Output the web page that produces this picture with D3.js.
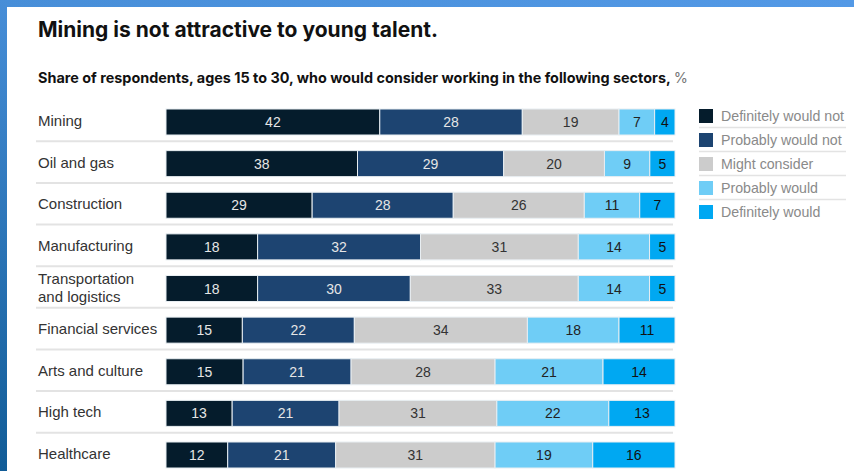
<!DOCTYPE html>
<meta charset="utf-8">
<script src="https://d3js.org/d3.v7.min.js"></script>
<style>
  body { margin: 0; background: #fff; }
  text { font-family: "Liberation Sans", Arial, sans-serif; }
</style>
<div id="chart"></div>
<script>

  // data (share of respondents, %)
  var sectors = ["Mining", "Oil and gas", "Construction", "Manufacturing",
    "Transportation and logistics", "Financial services", "Arts and culture",
    "High tech", "Healthcare"];
  var definitelyNot   = [42, 38, 29, 18, 18, 15, 15, 13, 12];
  var probablyNot     = [28, 29, 28, 32, 30, 22, 21, 21, 21];
  var mightConsider   = [19, 20, 26, 31, 33, 34, 28, 31, 31];
  var probablyWould   = [7, 9, 11, 14, 14, 18, 21, 22, 19];
  var definitelyWould = [4, 5, 7, 5, 5, 11, 14, 13, 16];
  var seriesNames = ["Definitely would not", "Probably would not", "Might consider",
    "Probably would", "Definitely would"];

  var colors = ["#051c2c", "#1d4471", "#cccccc", "#6fcdf6", "#00a8f2"];
  var textColors = ["#e6e6e6", "#e6e6e6", "#333", "#222", "#111"];

  var width = 854, height = 471;

  var svg = d3.select("#chart").append("svg")
    .attr("width", width)
    .attr("height", height);

  // blue frame on top and left
  var defs = svg.append("defs");
  var gTop = defs.append("linearGradient").attr("id", "gtop");
  gTop.append("stop").attr("offset", "0%").attr("stop-color", "#478ed8");
  gTop.append("stop").attr("offset", "100%").attr("stop-color", "#5399e6");
  var gLeft = defs.append("linearGradient").attr("id", "gleft")
    .attr("x1", 0).attr("y1", 0).attr("x2", 0).attr("y2", 1);
  gLeft.append("stop").attr("offset", "0%").attr("stop-color", "#478ed8");
  gLeft.append("stop").attr("offset", "100%").attr("stop-color", "#115c97");

  svg.append("rect").attr("x", 0).attr("y", 0).attr("width", width).attr("height", 7)
    .attr("fill", "url(#gtop)");
  svg.append("rect").attr("x", 0).attr("y", 0).attr("width", 7).attr("height", height)
    .attr("fill", "url(#gleft)");

  // title and subtitle
  svg.append("text")
    .attr("x", 38).attr("y", 37)
    .style("font-family", "Inter, 'Liberation Sans', sans-serif")
    .style("font-size", "21px").style("font-weight", 700).style("fill", "#111")
    .text("Mining is not attractive to young talent.");

  var sub = svg.append("text")
    .attr("x", 38).attr("y", 83)
    .style("font-family", "Inter, 'Liberation Sans', sans-serif")
    .style("font-size", "14.4px").style("font-weight", 700).style("fill", "#111");
  sub.append("tspan")
    .text("Share of respondents, ages 15 to 30, who would consider working in the following sectors, ");
  sub.append("tspan").style("font-weight", 400).style("fill", "#777").text("%");

  // build rows
  var series = [definitelyNot, probablyNot, mightConsider, probablyWould, definitelyWould];
  var rows = sectors.map(function(s, i) {
    var total = d3.sum(series, function(v) { return v[i]; });
    var acc = 0;
    var segs = series.map(function(v, k) {
      var seg = { key: k, value: v[i], start: acc / total, end: (acc + v[i]) / total };
      acc += v[i];
      return seg;
    });
    return { name: s, segs: segs };
  });

  var x = d3.scaleLinear().domain([0, 1]).range([166, 675]);
  var y = d3.scalePoint().domain(sectors).range([122, 455]);
  var barH = 26;
  var step = y.step();

  // separators between rows
  svg.selectAll(".sep")
    .data(sectors.slice(0, -1))
    .enter().append("line")
    .attr("x1", 36).attr("x2", 673)
    .attr("y1", function(d) { return y(d) + step / 2 - 1.5; })
    .attr("y2", function(d) { return y(d) + step / 2 - 1.5; })
    .attr("stroke", "#e3e3e3").attr("stroke-width", 2);

  // category labels
  var labels = svg.selectAll(".lab")
    .data(sectors)
    .enter().append("text")
    .attr("x", 38)
    .style("font-size", "15px").style("fill", "#333");
  labels.each(function(d) {
    var t = d3.select(this);
    var lines = d.length > 20 ? [d.slice(0, d.indexOf(" and")), d.slice(d.indexOf(" and") + 1)] : [d];
    var y0 = y(d) + 4 - (lines.length - 1) * 9;
    lines.forEach(function(l, i) {
      t.append("tspan").attr("x", 38).attr("y", y0 + i * 18).text(l);
    });
  });

  // bars
  var rowG = svg.selectAll(".row")
    .data(rows)
    .enter().append("g")
    .attr("transform", function(d) { return "translate(0," + (y(d.name) - barH / 2) + ")"; });

  rowG.selectAll("rect")
    .data(function(d) { return d.segs; })
    .enter().append("rect")
    .attr("x", function(d) { return x(d.start); })
    .attr("y", 0)
    .attr("width", function(d) { return x(d.end) - x(d.start); })
    .attr("height", barH)
    .attr("fill", function(d) { return colors[d.key]; })
    .attr("stroke", "#e8eef2").attr("stroke-width", 1);

  rowG.selectAll(".val")
    .data(function(d) { return d.segs; })
    .enter().append("text")
    .attr("x", function(d) { return (x(d.start) + x(d.end)) / 2; })
    .attr("y", barH / 2 + 5)
    .attr("text-anchor", "middle")
    .style("font-size", "14px")
    .style("fill", function(d) { return textColors[d.key]; })
    .text(function(d) { return d.value; });

  // legend
  var legend = svg.selectAll(".leg")
    .data(seriesNames)
    .enter().append("g")
    .attr("transform", function(d, i) { return "translate(699," + (109 + i * 24) + ")"; });

  legend.append("rect")
    .attr("width", 14).attr("height", 14)
    .attr("fill", function(d, i) { return colors[i]; });

  legend.append("text")
    .attr("x", 22).attr("y", 12)
    .style("font-size", "14.2px").style("fill", "#8a8a8a")
    .text(function(d) { return d; });

  legend.filter(function(d, i) { return i < seriesNames.length - 1; })
    .append("line")
    .attr("x1", 0).attr("x2", 147)
    .attr("y1", 18.5).attr("y2", 18.5)
    .attr("stroke", "#e3e3e3").attr("stroke-width", 1.5);

</script>
